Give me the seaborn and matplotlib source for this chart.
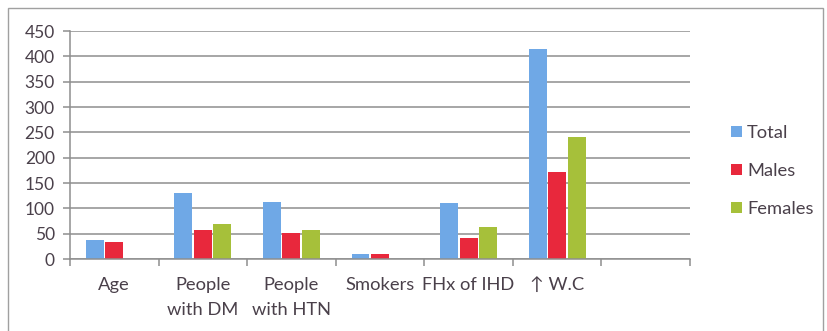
import matplotlib
matplotlib.use("Agg")
import matplotlib.pyplot as plt
from matplotlib.patches import Rectangle, Patch
import numpy as np
import pandas as pd
import seaborn as sns

# Risk factor counts by group
categories = ["Age", "People\nwith DM", "People\nwith HTN", "Smokers", "FHx of IHD", "\u2191 W.C", ""]
total = [38, 131, 113, 10, 110, 414, np.nan]
males = [34, 58, 51, 10, 42, 171, np.nan]
females = [np.nan, 70, 58, np.nan, 63, 240, np.nan]
series_names = ["Total", "Males", "Females"]
colors = ["#6fa8e6", "#e8283c", "#a6c03a"]
yticks = [0, 50, 100, 150, 200, 250, 300, 350, 400, 450]

rows = []
for name, vals in zip(series_names, [total, males, females]):
    for cat, v in zip(categories, vals):
        rows.append({"category": cat, "group": name, "value": v})
df = pd.DataFrame(rows)

sns.set_theme(style="white")
plt.rcParams["font.family"] = ["Lato", "DejaVu Sans"]
text_color = "#4a404a"
grid_color = "#8e8e8e"

W, H = 828, 331
fig = plt.figure(figsize=(W / 100, H / 100), dpi=100)
ax = fig.add_axes([70 / W, (H - 259) / H, (690 - 70) / W, (259 - 31) / H])

sns.barplot(data=df, x="category", y="value", hue="group", order=categories,
            hue_order=series_names, palette=colors, width=0.66, gap=0.08,
            linewidth=0, saturation=1, errorbar=None, legend=False, ax=ax)

ax.set_xlim(-0.5, len(categories) - 0.5)
ax.set_ylim(0, 450)
ax.set_yticks(yticks)
ax.set_yticklabels([str(t) for t in yticks])
ax.set_xlabel("")
ax.set_ylabel("")
ax.set_axisbelow(True)
ax.yaxis.grid(True, color=grid_color, linewidth=1.1)
ax.xaxis.grid(False)

for side in ["top", "right"]:
    ax.spines[side].set_visible(False)
for side in ["left", "bottom"]:
    ax.spines[side].set_color(grid_color)
    ax.spines[side].set_linewidth(1.1)

ax.tick_params(axis="y", which="major", length=5, width=1.1, color=grid_color,
               labelsize=12.5, labelcolor=text_color, pad=6, direction="out", left=True)
ax.tick_params(axis="x", which="major", length=0, labelsize=13.2,
               labelcolor=text_color, pad=13)
ax.set_xticks(np.arange(-0.5, len(categories) + 0.5, 1), minor=True)
ax.tick_params(axis="x", which="minor", length=5, width=1.1, color=grid_color,
               direction="out", bottom=True)
for lab in ax.get_xticklabels():
    lab.set_linespacing(1.7)
    lab.set_verticalalignment("top")

handles = [Patch(facecolor=c, edgecolor="none") for c in colors]
fig.legend(handles, series_names, loc="center left",
           bbox_to_anchor=(714 / W, 1 - 171 / H), frameon=False,
           fontsize=13.2, labelcolor=text_color, handlelength=0.6,
           handleheight=0.6, handletextpad=0.3, labelspacing=1.2)

# outer frame of the chart area
fig.patches.append(Rectangle((8 / W, -0.05), (823 - 8) / W, 1.05 - 8 / H,
                             transform=fig.transFigure, fill=False,
                             edgecolor="#a0a0a0", linewidth=1.0))

fig.savefig("out.png", dpi=100)
